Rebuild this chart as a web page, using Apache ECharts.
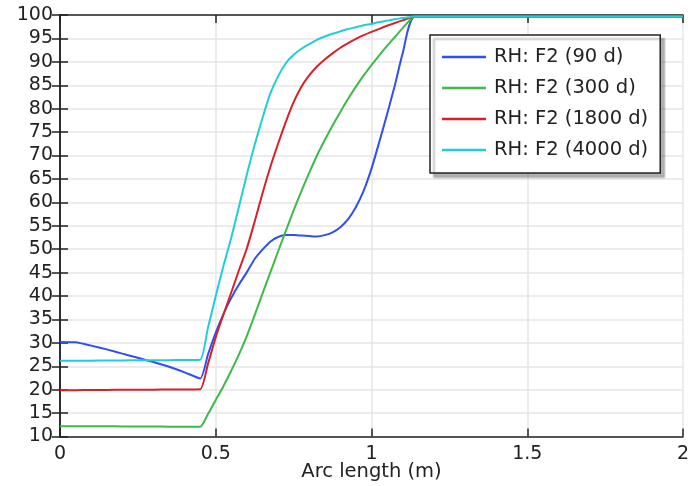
<!DOCTYPE html>
<html>
<head>
<meta charset="utf-8">
<script src="https://cdn.jsdelivr.net/npm/echarts@6/dist/echarts.min.js"></script>
<style>
  html, body { margin: 0; padding: 0; background: #fff; }
  #chart { width: 699px; height: 486px; }
</style>
</head>
<body>
<div id="chart"></div>
<script>
// arc length (m), shared by all curves
var arcLength = [0, 0.05, 0.1, 0.15, 0.2, 0.25, 0.3, 0.35, 0.4, 0.45,
  0.475, 0.5, 0.525, 0.55, 0.575, 0.6, 0.625, 0.65, 0.675, 0.7,
  0.725, 0.75, 0.775, 0.8, 0.825, 0.85, 0.875, 0.9, 0.925, 0.95,
  0.975, 1.0, 1.025, 1.05, 1.075, 1.1, 1.14, 1.5, 2.0]

var rh90 = [30.2, 30.1, 29.4, 28.6, 27.7, 26.8, 25.9, 24.9, 23.7, 22.4,
  27.5, 32.2, 36.2, 39.6, 42.5, 45.1, 47.9, 49.9, 51.6, 52.6,
  53.0, 53.0, 52.9, 52.8, 52.7, 53.0, 53.6, 54.7, 56.4, 59.0,
  62.5, 67.2, 72.9, 78.8, 85.0, 91.8, 99.7, 99.7, 99.7]

var rh300 = [12.2, 12.2, 12.2, 12.2, 12.15, 12.15, 12.15, 12.1, 12.1, 12.1,
  14.8, 17.8, 20.8, 24.1, 27.6, 31.5, 35.9, 40.5, 45.0, 49.5,
  53.9, 58.3, 62.4, 66.3, 70.0, 73.3, 76.4, 79.3, 82.1, 84.7,
  87.1, 89.3, 91.4, 93.4, 95.3, 97.2, 99.7, 99.7, 99.7]

var rh1800 = [19.9, 19.9, 19.95, 19.95, 20.0, 20.0, 20.0, 20.05, 20.05, 20.1,
  25.5, 31.2, 36.1, 40.8, 45.6, 50.2, 55.9, 61.9, 67.5, 72.5,
  77.2, 81.4, 84.7, 87.1, 89.0, 90.5, 91.8, 93.0, 94.0, 94.9,
  95.7, 96.4, 97.05, 97.7, 98.3, 98.85, 99.7, 99.7, 99.7]

var rh4000 = [26.2, 26.2, 26.2, 26.25, 26.25, 26.3, 26.3, 26.3, 26.35, 26.4,
  33.2, 40.0, 46.5, 52.5, 59.2, 66.0, 72.3, 78.0, 83.2, 86.9,
  89.7, 91.5, 92.8, 93.8, 94.7, 95.4, 96.0, 96.5, 97.0, 97.4,
  97.8, 98.1, 98.5, 98.8, 99.1, 99.35, 99.7, 99.7, 99.7]

var seriesNames = ['RH: F2 (90 d)', 'RH: F2 (300 d)', 'RH: F2 (1800 d)', 'RH: F2 (4000 d)']
var seriesValues = [rh90, rh300, rh1800, rh4000]
var colors = ['#2f4ff5', '#3dba4a', '#d92028', '#1fcfd3']

function pairs (ys) {
  return arcLength.map(function (x, i) { return [x, ys[i]] })
}

var font = 'DejaVu Sans'
var charts = echarts.init(document.getElementById('chart'))

var frameAxis = {
  axisLine: { show: true, lineStyle: { color: '#222', width: 1.5 } },
  axisTick: { show: true, inside: true, length: 8, lineStyle: { color: '#222', width: 1.5 } }
}

var options = {
  animation: false,
  color: colors,
  grid: { left: 60, right: 16, top: 15, bottom: 49.5, outerBoundsMode: 'none', containLabel: false },
  legend: {
    orient: 'vertical',
    left: 430,
    top: 35,
    padding: [11, 12, 12, 12],
    icon: 'rect',
    itemWidth: 44,
    itemHeight: 2.5,
    itemGap: 9,
    backgroundColor: '#fff',
    borderColor: '#222',
    borderWidth: 1.5,
    shadowColor: 'rgba(0,0,0,0.3)',
    shadowBlur: 2,
    shadowOffsetX: 4,
    shadowOffsetY: 4,
    textStyle: { fontFamily: font, fontSize: 19.5, color: '#222', lineHeight: 22, padding: [0, 0, 0, 3] },
    data: seriesNames
  },
  xAxis: [{
    type: 'value',
    min: 0,
    max: 2,
    interval: 0.5,
    position: 'bottom',
    name: 'Arc length (m)',
    nameLocation: 'middle',
    nameGap: 25,
    nameMoveOverlap: false,
    nameTextStyle: { fontFamily: font, fontSize: 19.5, color: '#222' },
    axisLine: frameAxis.axisLine,
    axisTick: frameAxis.axisTick,
    axisLabel: { fontFamily: font, fontSize: 19, color: '#222', margin: 8 },
    splitLine: { show: true, lineStyle: { color: '#e6e6e6', width: 1.5 } }
  }, {
    type: 'value',
    min: 0,
    max: 2,
    interval: 0.5,
    position: 'top',
    axisLine: frameAxis.axisLine,
    axisTick: frameAxis.axisTick,
    axisLabel: { show: false },
    splitLine: { show: false }
  }],
  yAxis: [{
    type: 'value',
    min: 10,
    max: 100,
    interval: 5,
    position: 'left',
    axisLine: frameAxis.axisLine,
    axisTick: frameAxis.axisTick,
    axisLabel: { fontFamily: font, fontSize: 19, color: '#222', margin: 7 },
    splitLine: { show: true, lineStyle: { color: '#e6e6e6', width: 1.5 } }
  }, {
    type: 'value',
    min: 10,
    max: 100,
    interval: 5,
    position: 'right',
    axisLine: frameAxis.axisLine,
    axisTick: frameAxis.axisTick,
    axisLabel: { show: false },
    splitLine: { show: false }
  }],
  series: seriesNames.map(function (name, i) {
    return {
      name: name,
      type: 'line',
      symbol: 'none',
      smooth: 0.2,
      lineStyle: { width: 2, color: colors[i] },
      itemStyle: { color: colors[i] },
      data: pairs(seriesValues[i])
    }
  })
}

charts.clear()
charts.setOption(options)
window.addEventListener('resize', function () {
  charts.resize()
})
</script>
</body>
</html>
